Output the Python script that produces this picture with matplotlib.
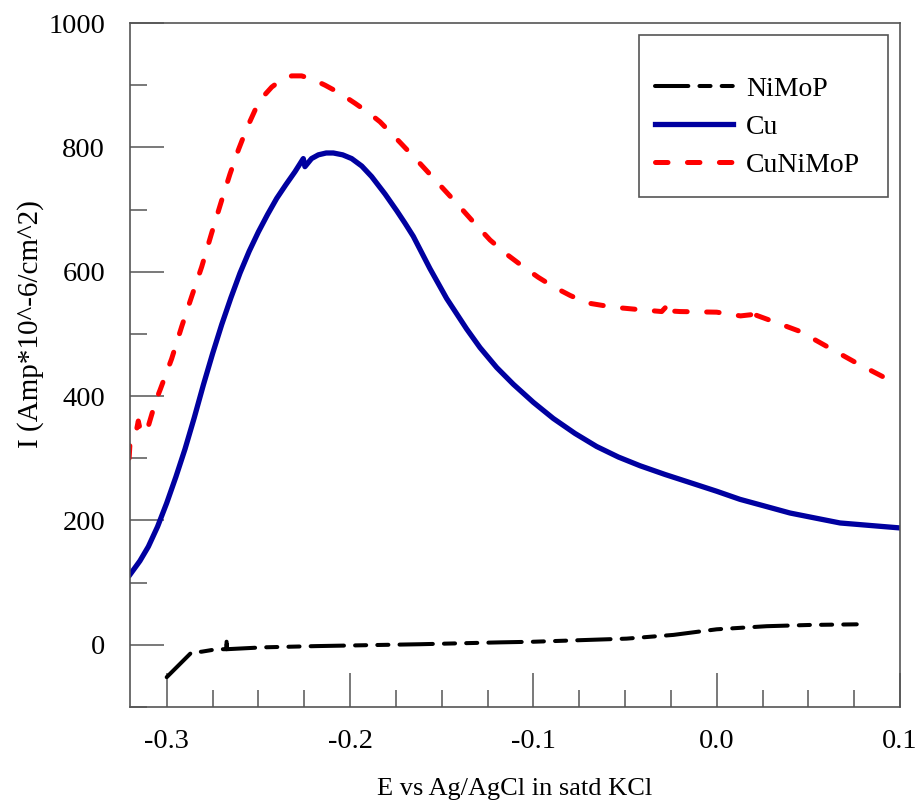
import matplotlib
matplotlib.use('Agg')
import matplotlib.pyplot as plt
from matplotlib.ticker import MultipleLocator, FixedLocator, FormatStrFormatter
from matplotlib.patches import Rectangle

plt.rcParams['font.family'] = ['Liberation Serif', 'DejaVu Serif']
plt.rcParams['axes.unicode_minus'] = False
plt.rcParams['lines.scale_dashes'] = False

# NiMoP
e_nimop = [-0.3000, -0.2864, -0.2809, -0.2727, -0.2674, -0.2673, -0.2672, -0.2473, -0.2182,
           -0.1618, -0.1182, -0.1000, -0.0491, -0.0236, 0.0000, 0.0273, 0.0509, 0.0764]
i_nimop = [-52, -12, -11, -7, -7, 12, -7, -4, -2,
           1, 4, 5, 10, 16, 25, 30, 32, 33]

# Cu
e_cu = [-0.3200, -0.3146, -0.3100, -0.3050, -0.3000, -0.2950, -0.2900, -0.2850, -0.2800,
        -0.2750, -0.2700, -0.2650, -0.2600, -0.2550, -0.2500, -0.2450, -0.2400, -0.2350,
        -0.2300, -0.2255, -0.2246, -0.2210, -0.2173, -0.2130, -0.2091, -0.2040, -0.1991,
        -0.1936, -0.1882, -0.1809, -0.1745, -0.1700, -0.1655, -0.1564, -0.1473, -0.1364,
        -0.1291, -0.1200, -0.1109, -0.1000, -0.0891, -0.0773, -0.0655, -0.0536, -0.0418,
        -0.0282, -0.0146, 0.0000, 0.0127, 0.0264, 0.0400, 0.0536, 0.0673, 0.0836, 0.1000]
i_cu = [113, 135, 158, 190, 228, 270, 315, 365, 418,
        468, 515, 558, 598, 633, 664, 692, 718, 740,
        761, 782, 769, 782, 788, 791, 791, 788, 782,
        770, 753, 725, 698, 678, 657, 605, 557, 508,
        478, 446, 419, 390, 364, 340, 319, 302, 288,
        274, 261, 247, 234, 223, 212, 204, 196, 192, 188]

# CuNiMoP
e_cunimop = [-0.3205, -0.3200, -0.3165, -0.3155, -0.3140, -0.3100, -0.3060, -0.3036, -0.2973,
             -0.2918, -0.2864, -0.2809, -0.2755, -0.2700, -0.2655, -0.2609, -0.2564, -0.2518,
             -0.2473, -0.2427, -0.2373, -0.2318, -0.2264, -0.2200, -0.2136, -0.2055, -0.1973,
             -0.1900, -0.1836, -0.1727, -0.1618, -0.1518, -0.1418, -0.1327, -0.1236, -0.1145,
             -0.1055, -0.0973, -0.0891, -0.0800, -0.0709, -0.0564, -0.0418, -0.0300, -0.0256,
             -0.0254, -0.0200, 0.0000, 0.0130, 0.0190, 0.0205, 0.0207, 0.0309, 0.0455,
             0.0600, 0.0764, 0.0980]
i_cunimop = [300, 325, 345, 360, 340, 352, 392, 410, 460,
             512, 560, 608, 662, 715, 757, 796, 830, 860,
             882, 897, 909, 915, 915, 909, 900, 887, 871,
             856, 841, 808, 774, 742, 710, 680, 651, 628,
             608, 591, 576, 562, 550, 543, 539, 536, 550,
             537, 536, 535, 529, 531, 544, 531, 520, 504,
             480, 453, 420]

fig = plt.figure(figsize=(9.17, 8.05), dpi=100)
ax = fig.add_axes([0.1418, 0.1217, 0.8397, 0.8497])

ax.plot(e_nimop, i_nimop, color='black', lw=2.9, dashes=(24, 8, 8, 8, 8, 8),
        dash_capstyle='round', label='NiMoP')
ax.plot(e_cu, i_cu, color='#0000a0', lw=3.8, label='Cu')
ax.plot(e_cunimop, i_cunimop, color='#ff0000', lw=3.6, dashes=(9, 14),
        dash_capstyle='round', label='CuNiMoP')

ax.set_xlim(-0.32, 0.1)
ax.set_ylim(-100, 1000)

ax.xaxis.set_major_locator(FixedLocator([-0.3, -0.2, -0.1, 0.0, 0.1]))
ax.xaxis.set_minor_locator(MultipleLocator(0.025))
ax.xaxis.set_major_formatter(FormatStrFormatter('%.1f'))
ax.yaxis.set_major_locator(FixedLocator([0, 200, 400, 600, 800, 1000]))
ax.yaxis.set_minor_locator(MultipleLocator(100))

gray = '#555555'
for s in ax.spines.values():
    s.set_color(gray)
    s.set_linewidth(1.2)
ax.tick_params(which='both', direction='in', top=False, right=False, color=gray,
               width=1.1, labelsize=20.5)
ax.tick_params(axis='x', pad=16)
ax.tick_params(axis='y', pad=18)
ax.tick_params(which='major', length=24.5)
ax.tick_params(which='minor', length=12)

ax.set_xlabel('E vs Ag/AgCl in satd KCl', fontsize=19, labelpad=17)
ax.set_ylabel('I (Amp*10^-6/cm^2)', fontsize=21)
ax.yaxis.set_label_coords(-0.112, 0.56)

# legend frame
ax.add_patch(Rectangle((0.661, 0.746), 0.323, 0.236, transform=ax.transAxes,
                       fill=False, edgecolor=gray, lw=1.2, zorder=5))
ax.legend(loc='upper left', bbox_to_anchor=(0.682, 0.922), frameon=False,
          fontsize=20, handlelength=2.8, handletextpad=0.47, labelspacing=0.45,
          borderpad=0, borderaxespad=0)

fig.savefig('out.png', dpi=100)
